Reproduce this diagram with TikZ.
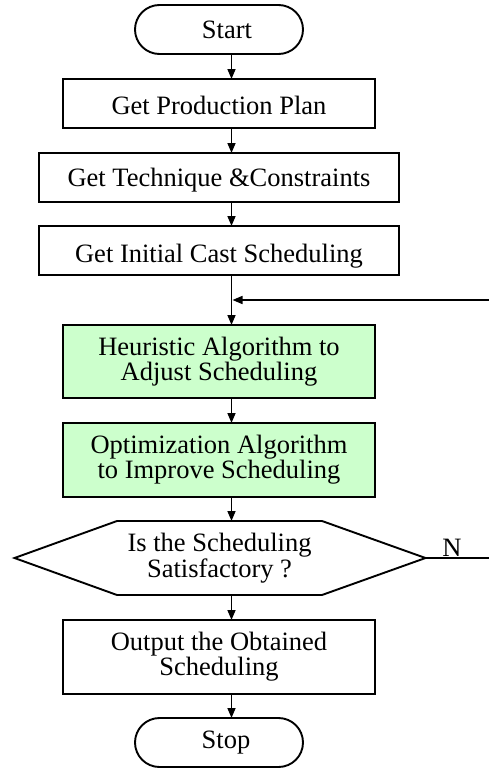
\documentclass[tikz,border=0pt]{standalone}
\usepackage{fontspec}
\setmainfont{Liberation Serif}
\usetikzlibrary{arrows.meta,calc}
\definecolor{boxgreen}{HTML}{CCFFCC}
\begin{document}
\begin{tikzpicture}[x=1pt,y=-1pt,
  every node/.style={font=\fontsize{26.5}{24}\selectfont, inner sep=0pt, outer sep=0pt},
  lw/.style={line width=1.9pt},
  stadium/.style={lw, draw, rounded corners=24.5pt, minimum width=168pt, minimum height=49pt},
  procbox/.style={lw, draw, minimum height=49pt},
  greenbox/.style={lw, draw, fill=boxgreen, minimum width=312pt, minimum height=74pt, align=center},
  arr/.style={line width=1.5pt, -{Triangle[length=10pt,width=8pt]}},
  conn/.style={line width=1.5pt}]
\useasboundingbox (0,0) rectangle (489,771);
\clip (0,0) rectangle (489,771);

\node[stadium] (start) at (219,29.5) {\hspace*{16pt}Start};
\node[procbox, minimum width=312pt, text height=21pt, text depth=0pt] (prod) at (219,103.5) {Get Production Plan};
\node[procbox, minimum width=360pt, text height=17pt, text depth=0pt] (tech) at (219,177.5) {Get Technique \&Constraints};
\node[procbox, minimum width=360pt, text height=23pt, text depth=0pt] (init) at (219,250.5) {Get Initial Cast Scheduling};
\node[greenbox, minimum height=73pt] (heur) at (219,361.5) {Heuristic Algorithm to\\Adjust Scheduling};
\node[greenbox] (opt) at (219,460) {Optimization Algorithm\\to Improve Scheduling};
\node[minimum width=205pt, minimum height=74pt, align=center, font=\fontsize{26.5}{23}\selectfont] (dec) at (219.5,558) {Is the Scheduling\\Satisfactory ?};
\coordinate (hexR) at ($(dec.east)+(103.5,0)$);
\coordinate (hexL) at ($(dec.west)+(-102.5,0)$);
\draw[lw] (dec.north west) -- (dec.north east) -- (hexR) -- (dec.south east) -- (dec.south west) -- (hexL) -- cycle;
\node[procbox, minimum width=312pt, minimum height=74pt, align=center, font=\fontsize{26.5}{21}\selectfont] (out) at (219,657) {Output the Obtained\\Scheduling};
\node[stadium] (stop) at (219,742.5) {\hspace*{14pt}Stop};

\node[anchor=base] (nlab) at (452,556) {N};

\coordinate (ax) at (231.5,0);
\draw[arr] (start.south -| ax) -- (prod.north -| ax);
\draw[arr] (prod.south -| ax) -- (tech.north -| ax);
\draw[arr] (tech.south -| ax) -- (init.north -| ax);
\draw[arr] (init.south -| ax) -- (heur.north -| ax);
\draw[arr] (heur.south -| ax) -- (opt.north -| ax);
\draw[arr] (opt.south -| ax) -- (dec.north -| ax);
\draw[arr] (dec.south -| ax) -- (out.north -| ax);
\draw[arr] (out.south -| ax) -- (stop.north -| ax);

\coordinate (fb) at (232.5,300);
\coordinate (fbR) at (500,300);
\coordinate (decR) at (500,558);
\draw[conn] (hexR) -- (decR) -- (fbR);
\draw[arr] (fbR) -- (fb);
\end{tikzpicture}
\end{document}
